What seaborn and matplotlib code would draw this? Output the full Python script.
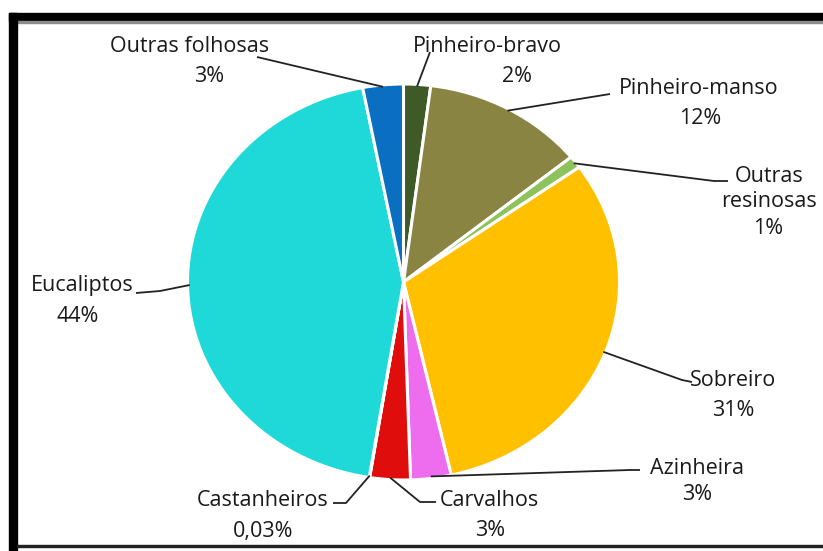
import matplotlib
matplotlib.use("Agg")
import matplotlib.pyplot as plt
import seaborn as sns
import numpy as np
from matplotlib.patches import Rectangle

# Forest area by species (percent)
species = ["Pinheiro-bravo", "Pinheiro-manso", "Outras\nresinosas", "Sobreiro",
           "Azinheira", "Carvalhos", "Castanheiros", "Eucaliptos", "Outras folhosas"]
shares = [2, 12, 1, 31, 3, 3, 0.03, 44, 3]
colors = ["#3f5a26", "#8a8443", "#8dc25c", "#ffc000", "#ee6cee",
          "#e00d0d", "#97a3c4", "#1fd8d8", "#0a6fc0"]

sns.set_theme(style="white")
plt.rcParams["font.family"] = ["Open Sans", "DejaVu Sans"]

W, H = 823, 551
fig = plt.figure(figsize=(W / 100, H / 100), dpi=100)
ax = fig.add_axes([0, 0, 1, 1])

# pie geometry in pixels
CX, CY, RX, RY = 403.5, 282.0, 216.0, 198.0


def px(x, y):
    return (x - CX) / RX, (CY - y) / RY


wedges, _ = ax.pie(shares, colors=colors, startangle=90, counterclock=False,
                   radius=1.0,
                   wedgeprops=dict(edgecolor="white", linewidth=2.2))
for w in wedges:
    w.set_zorder(2)

ax.set_aspect("auto")
ax.set_xlim(-CX / RX, (W - CX) / RX)
ax.set_ylim(-(H - CY) / RY, CY / RY)
ax.axis("off")


def fmt(v):
    if v < 0.1:
        return f"{v:.2f}".replace(".", ",") + "%"
    return f"{v:.0f}%"


# label layout: name centre, percent centre, leader points (pixels)
layout = {
    "Pinheiro-bravo": ((487, 47), (517, 77), [(430, 52)]),
    "Pinheiro-manso": ((699, 88), (700, 118), [(610, 94)]),
    "Outras\nresinosas": ((769, 189), (768, 229), [(728, 181), (714, 181)]),
    "Sobreiro": ((733, 380), (733, 410), [(692, 382), (682, 380)]),
    "Azinheira": ((697, 468), (697, 495), [(640, 470), (630, 470)]),
    "Carvalhos": ((489, 501), (490, 531), [(436, 502), (420, 502)]),
    "Castanheiros": ((263, 501), (263, 531), [(333, 503), (346, 503)]),
    "Eucaliptos": ((82, 285), (78, 317), [(136, 293), (160, 291)]),
    "Outras folhosas": ((190, 47), (209, 77), [(257, 57)]),
}

total = sum(shares)
theta = 90.0
for name, val in zip(species, shares):
    span = 360.0 * val / total
    mid = np.deg2rad(theta - span / 2)
    theta -= span
    (nx, ny), (vx, vy), pts = layout[name]
    rim = (np.cos(mid) * 0.99, np.sin(mid) * 0.99)
    path = [px(*p) for p in pts] + [rim]
    xs, ys = zip(*path)
    ax.plot(xs, ys, color="#222222", lw=1.3, zorder=3, solid_capstyle="butt")
    ax.text(*px(nx, ny), name, ha="center", va="center", fontsize=15.5,
            color="#1a1a1a", linespacing=1.2, zorder=4)
    ax.text(*px(vx, vy), fmt(val), ha="center", va="center", fontsize=15.5,
            color="#1a1a1a", zorder=4)

# frame around the chart
def frect(x0, y0, x1, y1, c):
    fig.patches.append(Rectangle((x0 / W, 1 - y1 / H), (x1 - x0) / W, (y1 - y0) / H,
                                 transform=fig.transFigure, color=c, zorder=10))

frect(9, 13, W, 21, "black")
frect(17, 21, W, 23, "#8c8c8c")
frect(9, 13, 17, H, "black")
frect(17, 545, W, 547, "#222222")

fig.savefig("out.png", dpi=100, facecolor="white")
